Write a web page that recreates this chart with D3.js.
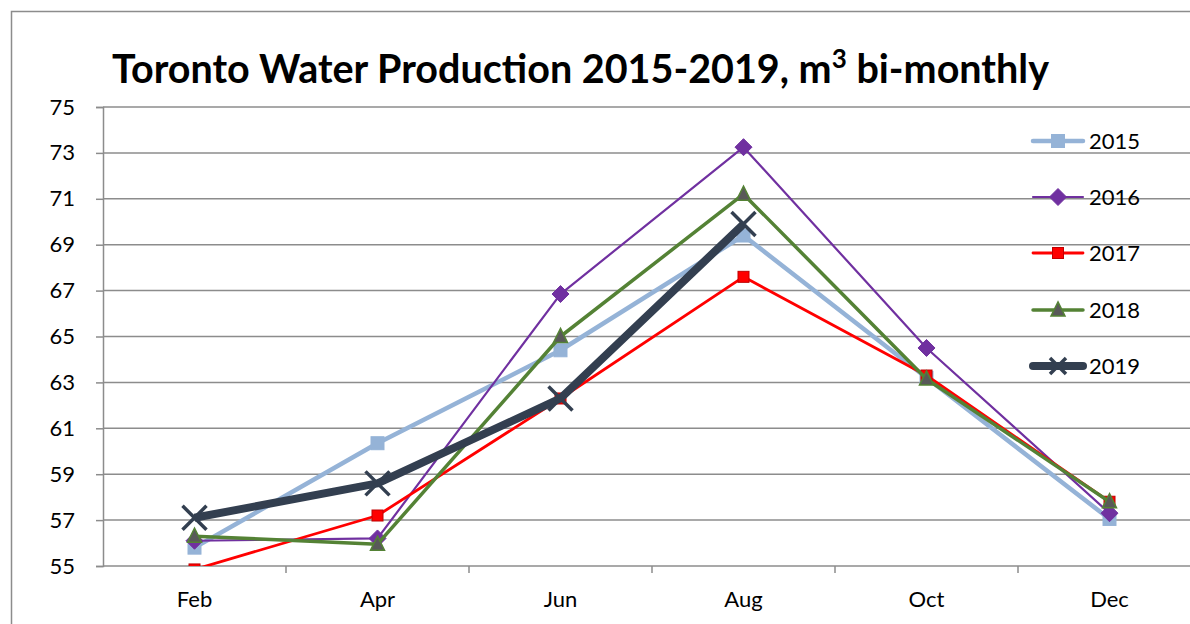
<!doctype html>
<html lang="en">
<head>
<meta charset="utf-8">
<title>Toronto Water Production 2015-2019</title>
<script src="https://d3js.org/d3.v7.min.js"></script>
<style>
body { margin: 0; background: #fff; }
svg { display: block; font-family: Lato, "Open Sans", sans-serif; }
</style>
</head>
<body>
<div id="chart"></div>
<script>
// categories and series
const months = ["Feb", "Apr", "Jun", "Aug", "Oct", "Dec"];
const years = ["2015", "2016", "2017", "2018", "2019"];
const v2015 = [55.8, 60.35, 64.4, 69.4, 63.2, 57.05];
const v2016 = [56.1, 56.2, 66.85, 73.25, 64.5, 57.3];
const v2017 = [54.85, 57.2, 62.3, 67.6, 63.3, 57.8];
const v2018 = [56.3, 55.95, 65.0, 71.2, 63.15, 57.8];
const v2019 = [57.1, 58.6, 62.3, 69.9];
const yTicks = [55, 57, 59, 61, 63, 65, 67, 69, 71, 73, 75];

let seriesValues = [v2015, v2016, v2017, v2018, v2019];

// look of each series
let styles = [
  { color: "#95b3d7", width: 4.5, marker: "square", size: 13, fill: "#95b3d7", stroke: "#95b3d7" },
  { color: "#7030a0", width: 2.2, marker: "diamond", size: 17, fill: "#7030a0", stroke: "#7030a0" },
  { color: "#ff0000", width: 2.8, marker: "square", size: 11, fill: "#ff0000", stroke: "#c00000" },
  { color: "#548235", width: 3.5, marker: "triangle", size: 14, fill: "#595959", stroke: "#548235" },
  { color: "#333f50", width: 8, marker: "x", size: 24, fill: "none", stroke: "#333f50" }
];

let w = 1190, h = 624;
let svg = d3.select("#chart").append("svg").attr("width", w).attr("height", h);

// outer chart border (right and bottom fall outside the picture)
svg.append("path")
  .attr("d", "M11.5,630 V11.5 H1200")
  .attr("fill", "none").attr("stroke", "#8c8c8c").attr("stroke-width", 1.5);

let plot = { left: 103, right: 1201, top: 107, bottom: 566 };

let x = d3.scalePoint().domain(months).range([plot.left, plot.right]).padding(0.5);
let y = d3.scaleLinear().domain([55, 75]).range([plot.bottom, plot.top]);

// title
let title = svg.append("text")
  .attr("x", 112).attr("y", 83)
  .attr("font-size", 39.5).attr("font-weight", "bold").attr("fill", "#000");
title.append("tspan").text("Toronto Water Production 2015-2019, m");
title.append("tspan").attr("dy", -15).attr("font-size", 26).text("3");
title.append("tspan").attr("dy", 15).text(" bi-monthly");

// gridlines
svg.append("g").selectAll("line")
  .data(yTicks)
  .join("line")
  .attr("x1", plot.left).attr("x2", plot.right)
  .attr("y1", d => y(d)).attr("y2", d => y(d))
  .attr("stroke", "#8c8c8c").attr("stroke-width", 1.5);

// y axis
let yAxis = svg.append("g")
  .attr("transform", "translate(" + plot.left + ",0)")
  .call(d3.axisLeft(y).tickValues(yTicks).tickSize(7).tickPadding(21));
yAxis.select(".domain").attr("stroke", "#8c8c8c").attr("stroke-width", 1.5);
yAxis.selectAll(".tick line").attr("stroke", "#8c8c8c").attr("stroke-width", 1.5);
yAxis.selectAll("text").attr("font-size", 22).attr("font-family", "Lato, sans-serif").attr("fill", "#000");

// x axis: ticks sit between categories
let step = x.step();
let xAxisG = svg.append("g");
xAxisG.selectAll("line")
  .data(months.slice(1))
  .join("line")
  .attr("x1", d => x(d) - step / 2).attr("x2", d => x(d) - step / 2)
  .attr("y1", plot.bottom).attr("y2", plot.bottom + 7)
  .attr("stroke", "#8c8c8c").attr("stroke-width", 1.5);
xAxisG.selectAll("text")
  .data(months)
  .join("text")
  .attr("x", d => x(d)).attr("y", 607)
  .attr("text-anchor", "middle")
  .attr("font-size", 22).attr("fill", "#000")
  .text(d => d);

// clip to plot area
svg.append("clipPath").attr("id", "plotclip")
  .append("rect")
  .attr("x", plot.left).attr("y", plot.top - 20)
  .attr("width", plot.right - plot.left).attr("height", plot.bottom - plot.top + 20);

function drawMarker(g, st, cx, cy) {
  let s = st.size;
  if (st.marker === "square") {
    g.append("rect").attr("x", cx - s / 2).attr("y", cy - s / 2)
      .attr("width", s).attr("height", s)
      .attr("fill", st.fill).attr("stroke", st.stroke).attr("stroke-width", 1);
  } else if (st.marker === "diamond") {
    let r = s / 2;
    g.append("path")
      .attr("d", "M" + cx + "," + (cy - r) + "L" + (cx + r) + "," + cy + "L" + cx + "," + (cy + r) + "L" + (cx - r) + "," + cy + "Z")
      .attr("fill", st.fill).attr("stroke", st.stroke).attr("stroke-width", 1);
  } else if (st.marker === "triangle") {
    let hh = s * 0.87;
    g.append("path")
      .attr("d", "M" + cx + "," + (cy - hh / 2 - 2) + " L" + (cx + s / 2) + "," + (cy + hh / 2) + " L" + (cx - s / 2) + "," + (cy + hh / 2) + "Z")
      .attr("fill", st.fill).attr("stroke", st.stroke).attr("stroke-width", 1.5);
  } else if (st.marker === "x") {
    let r = s / 2;
    g.append("path")
      .attr("d", "M" + (cx - r) + "," + (cy - r) + "L" + (cx + r) + "," + (cy + r) +
        "M" + (cx - r) + "," + (cy + r) + "L" + (cx + r) + "," + (cy - r))
      .attr("stroke", st.stroke).attr("stroke-width", 3.5).attr("fill", "none");
  }
}

let line = d3.line()
  .x((d, i) => x(months[i]))
  .y(d => y(d));

let seriesG = svg.append("g").attr("clip-path", "url(#plotclip)");
seriesValues.forEach(function (vals, k) {
  let st = styles[k];
  let g = seriesG.append("g");
  g.append("path")
    .datum(vals)
    .attr("d", line)
    .attr("fill", "none")
    .attr("stroke", st.color)
    .attr("stroke-width", st.width)
    .attr("stroke-linejoin", "round");
  vals.forEach(function (v, i) {
    drawMarker(g, st, x(months[i]), y(v));
  });
});

// legend (transparent, gridlines show through)
let legendY = [141, 197, 253, 310, 366];
years.forEach(function (yr, k) {
  let st = styles[k];
  let g = svg.append("g");
  let ly = legendY[k];
  g.append("line")
    .attr("x1", 1033).attr("x2", 1083)
    .attr("y1", ly).attr("y2", ly)
    .attr("stroke", st.color).attr("stroke-width", st.width)
    .attr("stroke-linecap", "round");
  let mst = Object.assign({}, st);
  if (st.marker === "x") mst.size = 16;
  drawMarker(g, mst, 1058, ly);
  g.append("text")
    .attr("x", 1089).attr("y", ly + 8)
    .attr("font-size", 22).attr("fill", "#000")
    .text(yr);
});
</script>
</body>
</html>
